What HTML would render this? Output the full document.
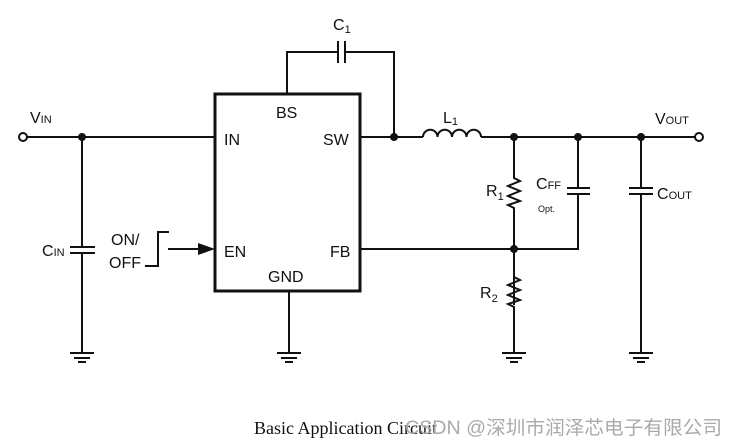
<!DOCTYPE html>
<html><head><meta charset="utf-8"><style>
body{margin:0;background:#fff;width:737px;height:445px;overflow:hidden}
svg{display:block}
text{font-family:"Liberation Sans",Arial,sans-serif;fill:#111}
</style></head><body>
<svg width="737" height="445" viewBox="0 0 737 445" xmlns="http://www.w3.org/2000/svg">
<defs>
<g id="gnd" stroke="#111" stroke-width="2"><line x1="-12" y1="0" x2="12" y2="0"/><line x1="-8" y1="5" x2="8" y2="5"/><line x1="-4" y1="9" x2="4" y2="9"/></g>
</defs>
<g stroke="#111" stroke-width="2" fill="none">
<rect x="215" y="94" width="145" height="197" stroke-width="3"/>
<line x1="27" y1="137" x2="215" y2="137"/>
<line x1="82" y1="137" x2="82" y2="247"/>
<line x1="82" y1="253" x2="82" y2="353"/>
<line x1="70" y1="247" x2="95" y2="247"/><line x1="70" y1="253" x2="95" y2="253"/>
<line x1="289" y1="291" x2="289" y2="353"/>
<polyline points="287,94 287,52 338,52"/>
<polyline points="345,52 394,52 394,137"/>
<line x1="338" y1="41" x2="338" y2="63"/><line x1="345" y1="41" x2="345" y2="63"/>
<line x1="360" y1="137" x2="423" y2="137"/>
<path d="M423,137 a7.25,7.25 0 0 1 14.5,0 a7.25,7.25 0 0 1 14.5,0 a7.25,7.25 0 0 1 14.5,0 a7.25,7.25 0 0 1 14.5,0"/>
<line x1="481" y1="137" x2="695" y2="137"/>
<polyline points="514,137 514,178 520,181 508,186 520,191 508,196 520,201 508,205 514,208 514,305"/>
<polyline points="514,249 514,277 520,280 508,285 520,290 508,295 520,300 508,304 514,307 514,353"/>
<polyline points="360,249 578,249 578,194"/>
<line x1="578" y1="137" x2="578" y2="188"/>
<line x1="567" y1="188" x2="590" y2="188"/><line x1="567" y1="194" x2="590" y2="194"/>
<line x1="641" y1="137" x2="641" y2="188"/><line x1="641" y1="194" x2="641" y2="353"/>
<line x1="629" y1="188" x2="653" y2="188"/><line x1="629" y1="194" x2="653" y2="194"/>
<polyline points="169,232 158,232 158,266 145,266"/>
<line x1="168" y1="249" x2="200" y2="249"/>
<circle cx="23" cy="137" r="4" fill="#fff"/>
<circle cx="699" cy="137" r="4" fill="#fff"/>
</g>
<polygon points="198,243 215,249 198,255" fill="#111"/>
<g fill="#111">
<circle cx="82" cy="137" r="4"/><circle cx="394" cy="137" r="4"/><circle cx="514" cy="137" r="4"/>
<circle cx="578" cy="137" r="4"/><circle cx="641" cy="137" r="4"/><circle cx="514" cy="249" r="4"/>
</g>
<use href="#gnd" x="82" y="353"/><use href="#gnd" x="289" y="353"/><use href="#gnd" x="514" y="353"/><use href="#gnd" x="641" y="353"/>
<g font-size="16">
<text x="276" y="118">BS</text>
<text x="224" y="145">IN</text>
<text x="323" y="145">SW</text>
<text x="224" y="257">EN</text>
<text x="330" y="257">FB</text>
<text x="268" y="282">GND</text>
<text x="30" y="123">V<tspan font-size="11">IN</tspan></text>
<text x="42" y="256">C<tspan font-size="11">IN</tspan></text>
<text x="111" y="245">ON/</text>
<text x="109" y="268">OFF</text>
<text x="333" y="30">C<tspan font-size="11" dy="3">1</tspan></text>
<text x="443" y="123">L<tspan font-size="11" dy="2">1</tspan></text>
<text x="486" y="196">R<tspan font-size="11" dy="4">1</tspan></text>
<text x="480" y="298">R<tspan font-size="11" dy="4">2</tspan></text>
<text x="536" y="189">C<tspan font-size="11">FF</tspan></text>
<text x="657" y="199">C<tspan font-size="11">OUT</tspan></text>
<text x="655" y="124">V<tspan font-size="11">OUT</tspan></text>
</g>
<text x="538" y="212" font-size="9">Opt.</text>
<text x="254" y="434" font-size="18" style="font-family:'Liberation Serif',serif">Basic Application Circuit</text>
<text x="405" y="434" font-size="19" textLength="317" lengthAdjust="spacingAndGlyphs" style="fill:#aaa;font-family:'Liberation Sans','Noto Sans CJK SC',sans-serif">CSDN @深圳市润泽芯电子有限公司</text>
</svg>
</body></html>
